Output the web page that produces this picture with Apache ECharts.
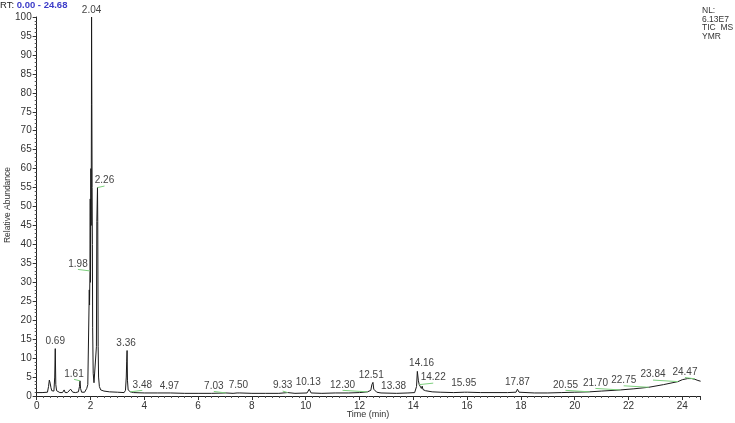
<!DOCTYPE html>
<html>
<head>
<meta charset="utf-8">
<script src="https://cdn.jsdelivr.net/npm/echarts@6/dist/echarts.min.js"></script>
<style>
  html, body { margin: 0; padding: 0; background: #fff; }
  #chart { width: 735px; height: 423px; }
</style>
</head>
<body>
<div id="chart"></div>
<script>
// TIC trace (time in min, relative abundance in %)
const rt = [
  0.00, 0.20, 0.40, 0.44, 0.47, 0.50, 0.53, 0.56, 0.60, 0.64, 0.67, 0.69, 0.71, 0.74, 0.80, 0.86, 0.92, 0.96,
  1.02, 1.06, 1.14, 1.20, 1.26, 1.30, 1.34, 1.45, 1.55, 1.59, 1.61, 1.63, 1.67, 1.78, 1.86, 1.90, 1.93,
  1.955, 1.965, 1.98, 1.99, 2.00, 2.015, 2.025, 2.035, 2.04, 2.05, 2.06, 2.07, 2.08, 2.10, 2.13, 2.17, 2.20,
  2.22, 2.235, 2.26, 2.27, 2.285, 2.30, 2.33, 2.38, 2.50, 2.70, 3.00, 3.25, 3.30, 3.33, 3.345, 3.36, 3.375,
  3.40, 3.45, 3.48, 3.60, 4.00, 4.50, 4.97, 5.50, 6.00, 6.50, 7.03, 7.30, 7.45, 7.50, 7.55, 8.00, 8.50, 9.00,
  9.33, 9.60, 10.05, 10.13, 10.20, 10.60, 11.10, 11.60, 12.00, 12.30, 12.42, 12.46, 12.50, 12.53, 12.56,
  12.60, 12.64, 12.80, 13.38, 13.80, 14.05, 14.12, 14.15, 14.17, 14.19, 14.22, 14.26, 14.30, 14.33, 14.36,
  14.45, 14.70, 15.00, 15.50, 15.90, 15.95, 16.02, 16.50, 17.00, 17.50, 17.82, 17.87, 17.93, 18.50, 19.00,
  19.50, 20.00, 20.55, 21.00, 21.70, 22.20, 22.75, 23.30, 23.84, 24.00, 24.20, 24.35, 24.47, 24.58, 24.68
];
const abundance = [
  0.9, 0.9, 1.0, 2.5, 4.2, 3.4, 2.2, 1.4, 1.2, 1.3, 5.0, 12.5, 3.0, 1.4, 1.1, 0.9, 1.3, 0.9,
  1.6, 0.9, 0.9, 1.0, 1.8, 1.5, 1.0, 0.9, 1.1, 2.5, 4.0, 2.0, 1.0, 1.0, 2.0, 3.0, 2.5,
  28, 24, 33, 52, 30, 60, 45, 77, 100, 77, 55, 40, 18, 6, 3.5, 3.0, 4.0,
  13, 46, 55, 46, 13, 5.0, 2.5, 1.6, 1.3, 1.1, 1.0, 0.9, 1.5, 5.0, 9.0, 12, 4.0,
  1.6, 1.2, 1.1, 0.9, 0.8, 0.8, 0.8, 0.7, 0.7, 0.7, 0.8, 0.7, 0.8, 1.1, 0.8, 0.7, 0.7, 0.7,
  0.9, 0.7, 0.8, 1.8, 0.8, 0.7, 0.8, 0.8, 0.9, 1.1, 1.5, 3.0, 3.6, 1.8, 1.4,
  2.0, 1.0, 0.8, 0.7, 0.8, 0.9, 2.5, 6.5, 6.8, 4.0, 3.0, 2.5, 2.0, 2.6, 1.7,
  1.4, 1.1, 1.0, 0.9, 1.0, 1.5, 1.0, 0.9, 0.9, 0.9, 1.0, 1.8, 1.0, 0.8, 0.8,
  0.9, 1.0, 1.1, 1.3, 1.6, 1.9, 2.3, 3.0, 3.8, 4.3, 4.6, 4.6, 4.4, 4.1, 3.9
];

// peak labels and the height each one points at
const peakLabels = ['0.69', '1.61', '1.98', '2.04', '2.26', '3.36', '3.48', '4.97', '7.03', '7.50', '9.33', '10.13',
  '12.30', '12.51', '13.38', '14.16', '14.22', '15.95', '17.87', '20.55', '21.70', '22.75', '23.84', '24.47'];
const peakHeights = [12.5, 4.0, 33, 100, 55, 12, 1.1, 0.8, 0.8, 1.1, 0.9, 1.8,
  1.1, 3.6, 0.7, 6.8, 3.0, 1.5, 1.8, 1.1, 1.6, 2.3, 3.8, 4.5];

const xTicks = { min: 0, max: 24.68, step: 2 };
const yTicks = { min: 0, max: 100, step: 5 };

// label placement in px (dx from the peak; lead = green leader line)
const labelPlace = {
  '1.61': { dx: -6, lead: true }, '1.98': { dx: -12, lead: true }, '2.26': { dx: 7, lead: true },
  '3.48': { dx: 12, lead: true }, '7.03': { dx: -12, lead: true }, '9.33': { dx: -5, lead: true },
  '12.30': { dx: -25, lead: true }, '14.22': { dx: 14, lead: true }, '20.55': { dx: -24, lead: true },
  '21.70': { dx: -25, lead: true }, '22.75': { dx: -25, lead: true }, '23.84': { dx: -25, lead: true },
  '24.47': { dx: -10, lead: true },
  '0.69': { dx: 0 }, '2.04': { dx: 0 }, '3.36': { dx: -1 }, '4.97': { dx: -1 }, '7.50': { dx: 0 },
  '10.13': { dx: -1 }, '12.51': { dx: -2 }, '13.38': { dx: -3 }, '14.16': { dx: 4 }, '15.95': { dx: -2 },
  '17.87': { dx: 0 }
};

const FONT = 'Liberation Sans, Arial, sans-serif';
const trace = rt.map((t, i) => [t, abundance[i]]);
const peaks = peakLabels.map((s, i) => [parseFloat(s), peakHeights[i]]);

const chart = echarts.init(document.getElementById('chart'));
chart.setOption({
  animation: false,
  backgroundColor: '#fff',
  grid: { left: 36.7, right: 34.4, top: 17, bottom: 27 },
  xAxis: {
    type: 'value', min: xTicks.min, max: xTicks.max, interval: xTicks.step,
    axisLine: { lineStyle: { color: '#222', width: 1 } },
    axisTick: { length: 4, lineStyle: { color: '#333' } },
    minorTick: { show: true, splitNumber: 8, length: 2, lineStyle: { color: '#555' } },
    axisLabel: { color: '#333', fontSize: 10, fontFamily: FONT, margin: 5, showMaxLabel: false },
    splitLine: { show: false }
  },
  yAxis: {
    type: 'value', min: yTicks.min, max: yTicks.max, interval: yTicks.step,
    axisLine: { show: true, lineStyle: { color: '#222', width: 1 } },
    axisTick: { show: true, length: 4, lineStyle: { color: '#333' } },
    minorTick: { show: true, splitNumber: 5, length: 2, lineStyle: { color: '#555' } },
    axisLabel: { color: '#333', fontSize: 10, fontFamily: FONT, margin: 5 },
    splitLine: { show: false }
  },
  graphic: [
    { type: 'text', left: 0, top: 0, style: {
      text: '{k|RT:} {v|0.00 - 24.68}', font: '9.5px ' + FONT,
      rich: { k: { fill: '#222', fontSize: 9.5, fontFamily: FONT }, v: { fill: '#3b3bc8', fontSize: 9.5, fontFamily: FONT, fontWeight: 'bold' } }
    } },
    { type: 'text', left: 702, top: 6, style: {
      text: 'NL:\n6.13E7\nTIC  MS\nYMR', font: '8.5px ' + FONT, fill: '#333', lineHeight: 8.8
    } },
    { type: 'text', x: 8, y: 205, rotation: Math.PI / 2, style: {
      text: 'Relative Abundance', font: '8.5px ' + FONT, fill: '#333', align: 'center', verticalAlign: 'middle'
    } },
    { type: 'text', x: 368, y: 415, style: {
      text: 'Time (min)', font: '9px ' + FONT, fill: '#333', align: 'center', verticalAlign: 'middle'
    } }
  ],
  series: [
    {
      type: 'line', data: trace, showSymbol: false, silent: true,
      lineStyle: { color: '#1a1a1a', width: 1 }
    },
    {
      type: 'custom', data: peaks, clip: false, silent: true, z: 5,
      renderItem(params, api) {
        const name = peakLabels[params.dataIndex];
        const place = labelPlace[name] || { dx: 0 };
        const p = api.coord([api.value(0), api.value(1)]);
        const children = [];
        let ty = p[1] - 7;
        if (place.lead) {
          const ex = p[0] + place.dx, ey = p[1] - 1.5;
          children.push({ type: 'line', shape: { x1: p[0], y1: p[1], x2: ex, y2: ey },
            style: { stroke: '#7ed07e', lineWidth: 1 } });
          ty = ey - 5.5;
        }
        children.push({ type: 'text', style: {
          text: name, x: p[0] + place.dx, y: ty, align: 'center', verticalAlign: 'middle',
          font: '10px ' + FONT, fill: '#444'
        } });
        return { type: 'group', children };
      }
    }
  ]
});
</script>
</body>
</html>
